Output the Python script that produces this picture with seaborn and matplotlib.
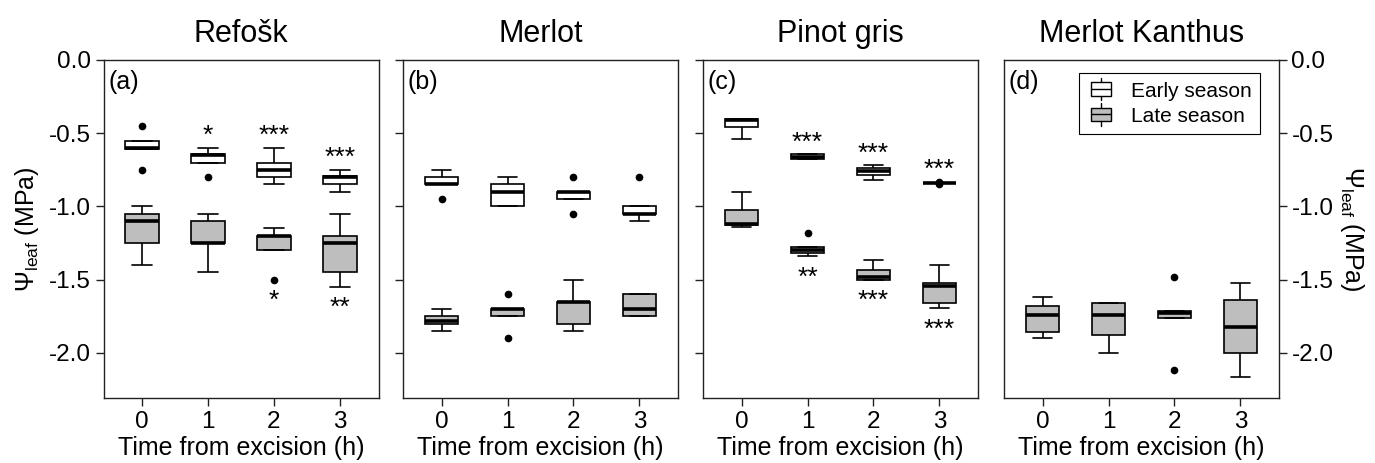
import numpy as np
import pandas as pd
import matplotlib
matplotlib.use("Agg")
import matplotlib.pyplot as plt
from matplotlib.patches import Patch, Rectangle
from matplotlib.lines import Line2D
from matplotlib.legend_handler import HandlerBase
import seaborn as sns

# ---------------- data ----------------
times = [0, 1, 2, 3]
cultivars = ["Refošk", "Merlot", "Pinot gris", "Merlot Kanthus"]
panel_tags = ["(a)", "(b)", "(c)", "(d)"]
seasons = ["Early season", "Late season"]
season_colors = ["white", "#bebebe"]
y_ticks = [0.0, -0.5, -1.0, -1.5, -2.0]

# box summaries per time (0,1,2,3 h): [lower whisker, Q1, median, Q3, upper whisker]
refosk_early = [[-0.605, -0.605, -0.60, -0.55, -0.55],
                [-0.70, -0.70, -0.65, -0.645, -0.60],
                [-0.85, -0.80, -0.75, -0.70, -0.60],
                [-0.90, -0.85, -0.80, -0.795, -0.75]]
refosk_early_out = [[-0.45, -0.75], [-0.80], [], []]
refosk_late = [[-1.40, -1.25, -1.10, -1.05, -1.00],
               [-1.45, -1.25, -1.25, -1.10, -1.05],
               [-1.295, -1.295, -1.205, -1.20, -1.15],
               [-1.55, -1.45, -1.25, -1.20, -1.05]]
refosk_late_out = [[], [], [-1.50], []]

merlot_early = [[-0.85, -0.85, -0.85, -0.80, -0.75],
                [-1.00, -1.00, -0.90, -0.85, -0.80],
                [-0.95, -0.95, -0.90, -0.90, -0.90],
                [-1.10, -1.05, -1.05, -1.00, -1.00]]
merlot_early_out = [[-0.95], [], [-0.80, -1.05], [-0.80]]
merlot_late = [[-1.85, -1.80, -1.78, -1.75, -1.70],
               [-1.75, -1.75, -1.70, -1.70, -1.70],
               [-1.85, -1.80, -1.65, -1.65, -1.50],
               [-1.75, -1.75, -1.70, -1.60, -1.60]]
merlot_late_out = [[], [-1.60, -1.90], [], []]

pinot_early = [[-0.54, -0.46, -0.41, -0.40, -0.40],
               [-0.675, -0.675, -0.66, -0.645, -0.645],
               [-0.82, -0.785, -0.76, -0.735, -0.72],
               [-0.84, -0.84, -0.84, -0.84, -0.84]]
pinot_early_out = [[], [], [], [-0.83, -0.85]]
pinot_late = [[-1.14, -1.125, -1.12, -1.025, -0.90],
              [-1.34, -1.32, -1.295, -1.28, -1.28],
              [-1.50, -1.50, -1.48, -1.435, -1.365],
              [-1.695, -1.66, -1.54, -1.525, -1.40]]
pinot_late_out = [[], [-1.18], [], []]

kanthus_late = [[-1.90, -1.86, -1.74, -1.68, -1.62],
                [-2.00, -1.88, -1.74, -1.66, -1.66],
                [-1.76, -1.76, -1.725, -1.715, -1.715],
                [-2.165, -2.00, -1.82, -1.64, -1.52]]
kanthus_late_out = [[], [], [-1.48, -2.12], []]

# significance marks (early: above boxes, late: below boxes)
refosk_early_sig = ["", "*", "***", "***"]
refosk_late_sig = ["", "", "*", "**"]
pinot_early_sig = ["", "***", "***", "***"]
pinot_late_sig = ["", "**", "***", "***"]
no_sig = ["", "", "", ""]


def observations(stats, outliers):
    """Nine observations whose quartiles/whiskers equal the read summary."""
    lo, q1, med, q3, hi = stats
    low_out = sorted(o for o in outliers if o < q1)
    high_out = sorted(o for o in outliers if o > q3)
    low = (low_out + [lo, lo])[:2]
    high = ([hi, hi] + high_out)[-2:]
    return sorted(low) + [q1, q1, med, q3, q3] + sorted(high)


series = [
    ("Refošk", "Early season", refosk_early, refosk_early_out, refosk_early_sig),
    ("Refošk", "Late season", refosk_late, refosk_late_out, refosk_late_sig),
    ("Merlot", "Early season", merlot_early, merlot_early_out, no_sig),
    ("Merlot", "Late season", merlot_late, merlot_late_out, no_sig),
    ("Pinot gris", "Early season", pinot_early, pinot_early_out, pinot_early_sig),
    ("Pinot gris", "Late season", pinot_late, pinot_late_out, pinot_late_sig),
    ("Merlot Kanthus", "Late season", kanthus_late, kanthus_late_out, no_sig),
]

rows = []
for cult, season, stats, outs, _ in series:
    for t, st, ot in zip(times, stats, outs):
        for v in observations(st, ot):
            rows.append({"cultivar": cult, "season": season, "time": t, "psi": v})
df = pd.DataFrame(rows)

# ---------------- styling ----------------
sns.set_style("ticks")
plt.rcParams["font.family"] = ["Liberation Sans", "DejaVu Sans"]
plt.rcParams["mathtext.fontset"] = "custom"
plt.rcParams["mathtext.rm"] = "Liberation Sans"
plt.rcParams["mathtext.it"] = "Liberation Sans:italic"
plt.rcParams["axes.unicode_minus"] = False
for key in ["text.color", "axes.labelcolor", "xtick.color", "ytick.color"]:
    plt.rcParams[key] = "black"

W, H = 1375, 463
fig = plt.figure(figsize=(W / 100, H / 100), dpi=100)
lefts = [103.5, 403.0, 703.0, 1004.0]
ax_w, ax_top, ax_bot = 275.0, 60.0, 398.3

palette = dict(zip(seasons, season_colors))
ylabel = r"$\Psi_{\mathrm{leaf}}$ (MPa)"


class BoxHandler(HandlerBase):
    def create_artists(self, legend, orig_handle, xdescent, ydescent,
                       width, height, fontsize, trans):
        fc = orig_handle.get_facecolor()
        cx = -xdescent + width / 2
        cy = -ydescent + height / 2
        bw, bh, wl = 14.0, 10.0, 3.0
        rect = Rectangle((cx - bw / 2, cy - bh / 2), bw, bh, facecolor=fc,
                         edgecolor="black", lw=1.0, transform=trans)
        med = Line2D([cx - bw / 2, cx + bw / 2], [cy, cy], color="black", lw=1.0, transform=trans)
        w1 = Line2D([cx, cx], [cy + bh / 2, cy + bh / 2 + wl], color="black", lw=1.0, transform=trans)
        w2 = Line2D([cx, cx], [cy - bh / 2, cy - bh / 2 - wl], color="black", lw=1.0, transform=trans)
        return [rect, med, w1, w2]


for k, (cult, tag) in enumerate(zip(cultivars, panel_tags)):
    ax = fig.add_axes([lefts[k] / W, 1 - ax_bot / H, ax_w / W, (ax_bot - ax_top) / H])
    sub = df[df["cultivar"] == cult]
    sns.boxplot(data=sub, x="time", y="psi", hue="season", hue_order=seasons,
                order=times, palette=palette, dodge=False, width=0.51,
                linecolor="black", linewidth=1.2,
                medianprops=dict(linewidth=2.6, color="black"),
                flierprops=dict(marker="o", markerfacecolor="black",
                                markeredgecolor="black", markersize=4.5),
                capwidths=0.3, legend=False, ax=ax)
    ax.set_xlim(-0.585, 3.585)
    ax.set_ylim(-2.31, 0.0)
    ax.set_yticks(y_ticks)
    ax.set_yticklabels([f"{v:.1f}" for v in y_ticks])
    ax.set_xlabel("Time from excision (h)", fontsize=18, labelpad=2)
    ax.set_ylabel("")
    ax.set_title(cult, fontsize=22, pad=13)
    for side in ["left", "right", "top", "bottom"]:
        ax.spines[side].set_visible(True)
        ax.spines[side].set_color("#222222")
        ax.spines[side].set_linewidth(1.0)
    ax.tick_params(axis="both", direction="out", length=6, width=1.0,
                   labelsize=17.5, color="#222222", labelcolor="black", pad=3)
    ax.text(0.018, 0.935, tag, transform=ax.transAxes, ha="left", va="center", fontsize=18)

    if k == 0:
        ax.set_ylabel(ylabel, fontsize=18, labelpad=6)
    elif k in (1, 2):
        ax.tick_params(axis="y", labelleft=False)
    else:
        ax.yaxis.tick_right()
        ax.yaxis.set_label_position("right")
        ax.set_ylabel(ylabel, fontsize=18, rotation=-90, va="bottom", labelpad=3)

    # significance marks
    for c2, season, stats, outs, sig in series:
        if c2 != cult:
            continue
        for i, (st, ot, s) in enumerate(zip(stats, outs, sig)):
            if not s:
                continue
            obs = observations(st, ot)
            if season == "Early season":
                ax.text(i, max(obs) + 0.08, s, ha="center", va="center", fontsize=19)
            else:
                ax.text(i, min(obs) - 0.145, s, ha="center", va="center", fontsize=19)

    if k == 3:
        handles = [Patch(facecolor=c, edgecolor="black") for c in season_colors]
        leg = ax.legend(handles, seasons, loc="upper right",
                        bbox_to_anchor=(0.932, 0.961), borderaxespad=0,
                        fontsize=15, frameon=True, fancybox=False,
                        edgecolor="black", framealpha=1, handlelength=1.3,
                        handletextpad=0.8, borderpad=0.4, labelspacing=0.3,
                        handler_map={Patch: BoxHandler()})
        leg.get_frame().set_linewidth(0.8)

fig.savefig("out.png", dpi=100)
